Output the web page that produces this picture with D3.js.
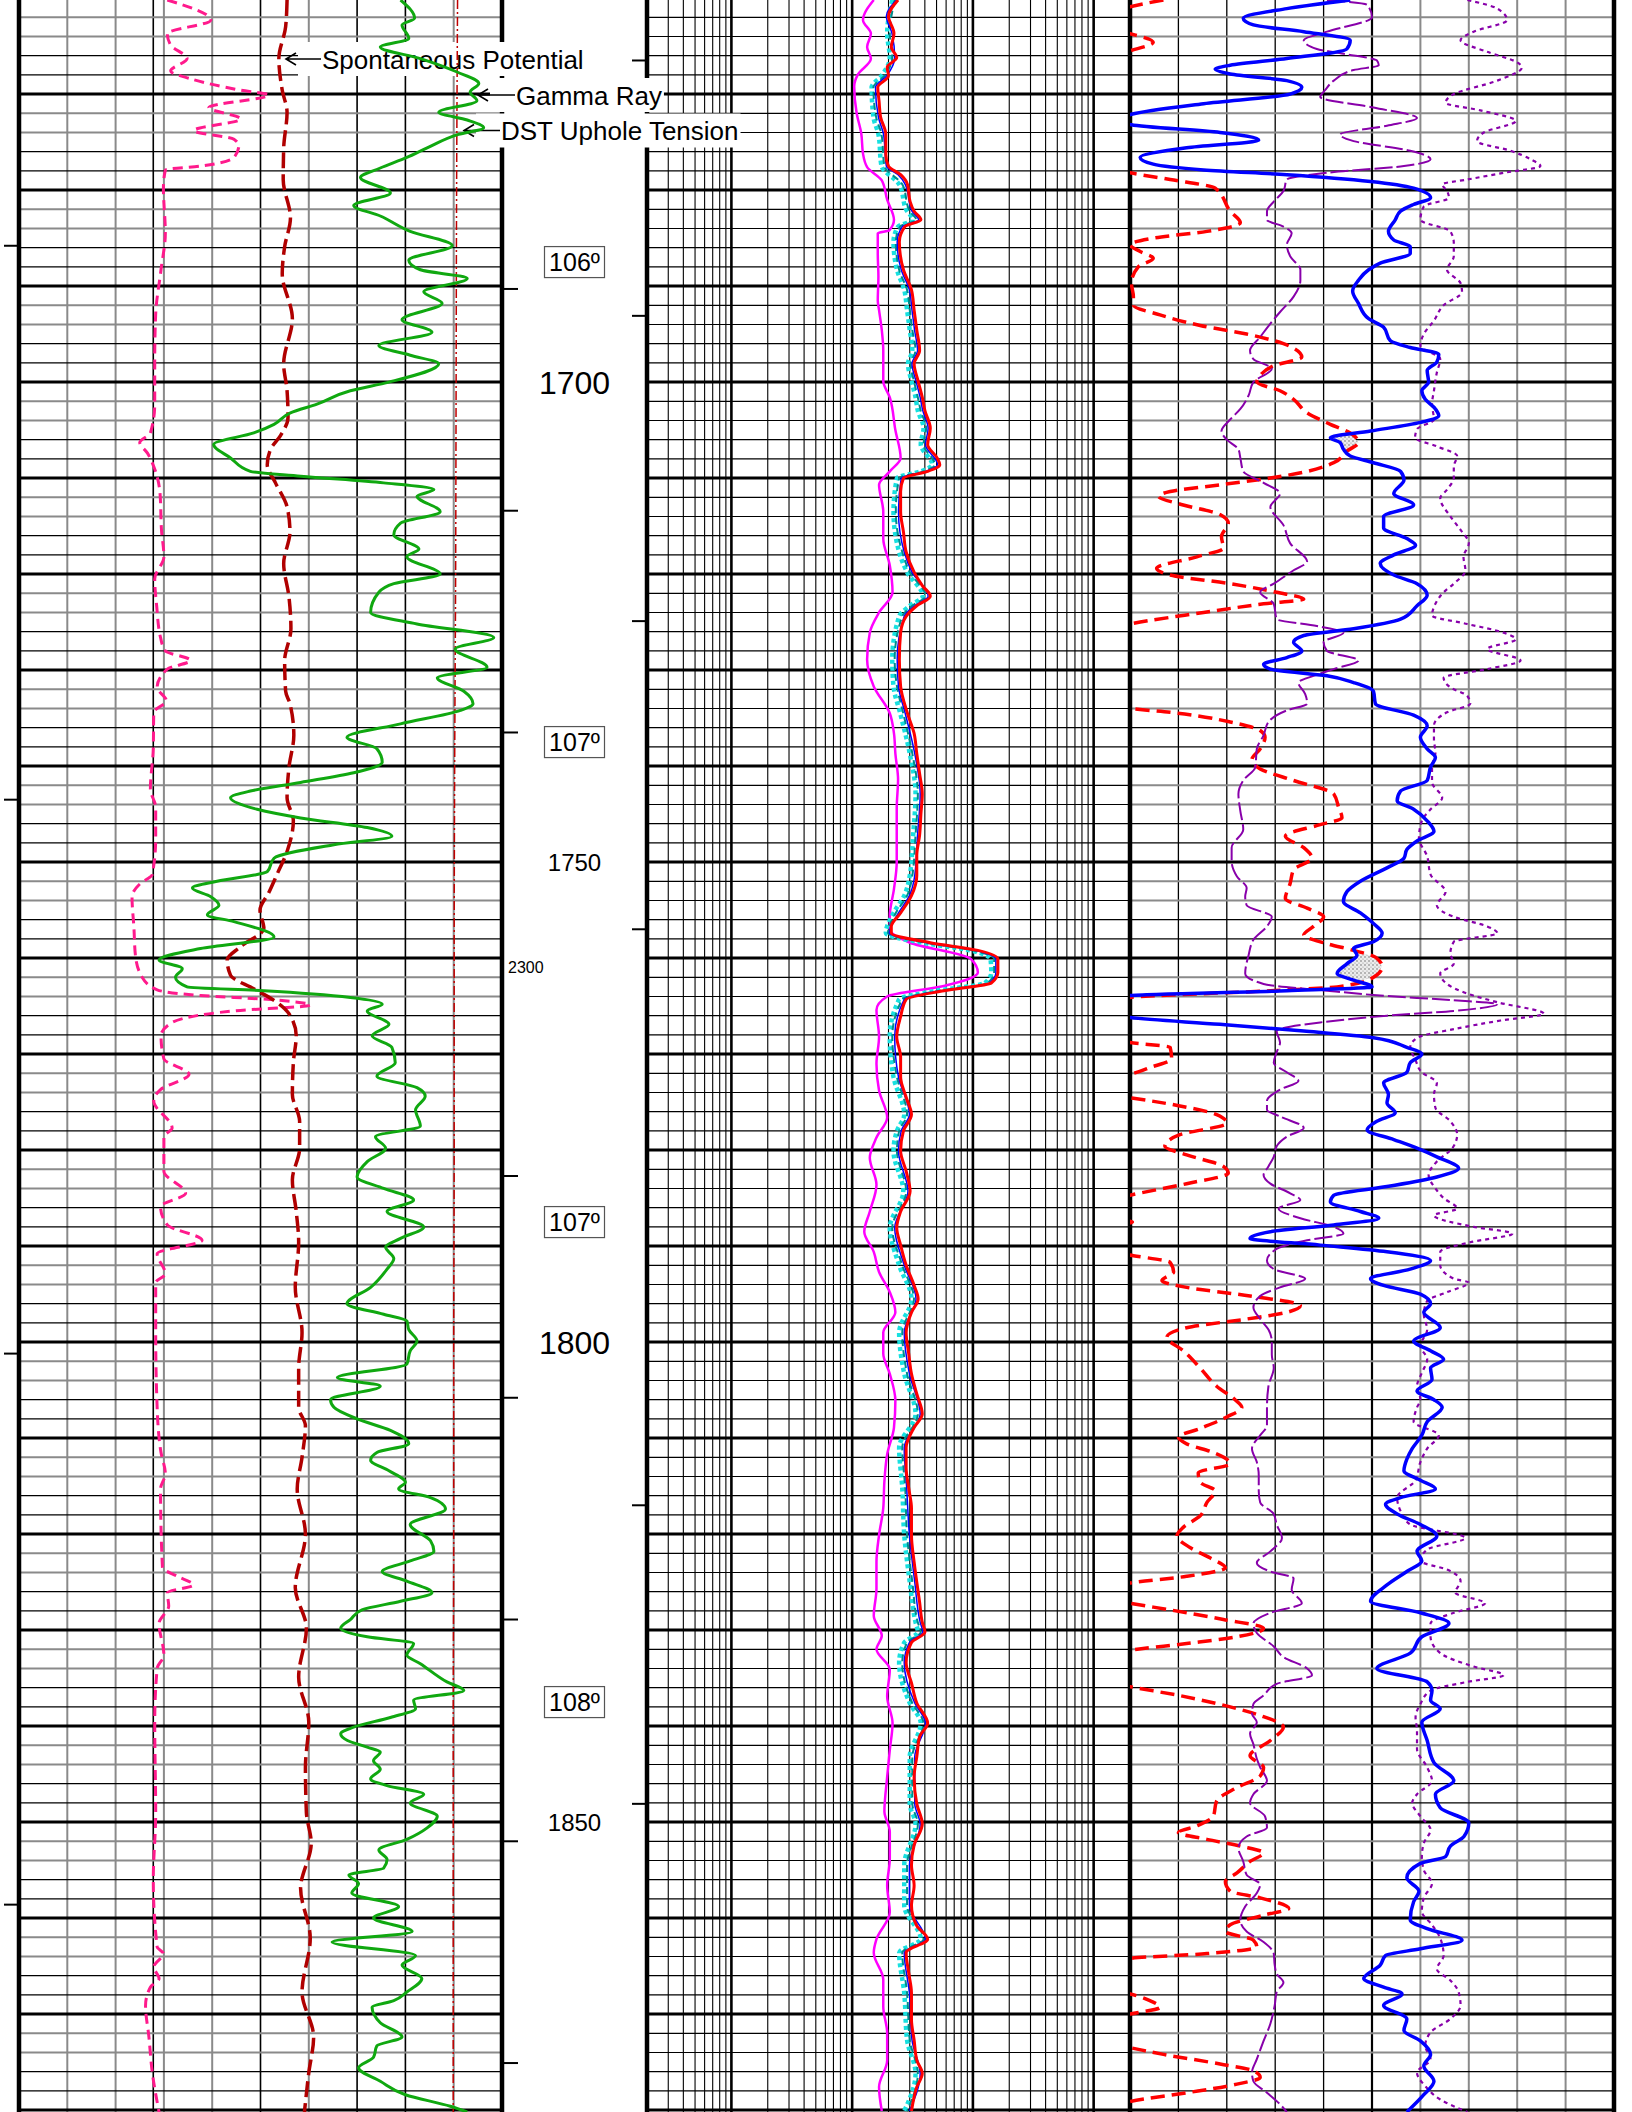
<!DOCTYPE html>
<html><head><meta charset="utf-8">
<script src="https://cdn.jsdelivr.net/npm/d3@7"></script>
<style>html,body{margin:0;padding:0;background:#fff}svg{display:block}</style>
</head><body>
<svg id="chart" width="1632" height="2112"></svg>
<script>
// ---------------- DATA ----------------
const depthDomain = [1660.2, 1880.2];
const depthLabels = [1700, 1750, 1800, 1850];
const majorDepthLabels = [1700, 1800];
const tempDepths = [1687.5, 1737.5, 1787.5, 1837.5];
const tempLabels = ["106º", "107º", "107º", "108º"];
const secTicks = [2225, 2250, 2275, 2325, 2350, 2375, 2400, 2425];
const secLabel = 2300;
const leftTickDepths = [1685.8, 1743.5, 1801.2, 1858.6];
const markerDepths = [1666.5, 1693.1, 1724.9, 1757, 1817, 1848.1];
const curveLabels = ["Spontaneous Potential", "Gamma Ray", "DST Uphole Tension"];
const track1RefLine = 27.8;

// Track 1 (linear, % of scale)
const gammaRay = [[1660.2,79],[1662.1,81.9],[1662.8,79.3],[1664.2,80.7],[1665.1,74.8],[1666.3,83.1],[1667.7,90.7],[1668.9,95.2],[1669.8,93.4],[1670.7,94.8],[1671.9,86.9],[1672.7,92.8],[1673.5,96.2],[1674.2,91],[1675.6,84.5],[1676.6,80.3],[1677.7,74.8],[1678.7,70.7],[1680.3,76.9],[1681.6,69.3],[1682.7,74.8],[1684.3,81],[1685.8,89.7],[1687.3,80.7],[1688.3,83.1],[1689.2,92.8],[1690.6,83.8],[1691.8,87.6],[1693.5,79.3],[1694.8,85.5],[1696.2,74.5],[1697.2,81],[1698.1,86.9],[1700,76.6],[1700.9,68.6],[1702.3,61.7],[1703.2,56.2],[1704.4,52.8],[1705.3,48.6],[1706.5,40.3],[1707.9,43.8],[1709.3,47.9],[1709.8,58.3],[1710.5,75.5],[1711.2,85.9],[1711.9,82.4],[1713.5,87.2],[1714.7,79],[1715.9,77.6],[1717.4,82.8],[1718.2,80.3],[1720,87.2],[1721,77.6],[1721.9,74.5],[1724,72.8],[1725.2,82.4],[1726.6,98.3],[1727.8,90.3],[1729.7,96.9],[1730.8,86.6],[1732.2,92.1],[1733.5,94],[1734.2,91.4],[1735.6,79],[1737,67.9],[1738.2,74.1],[1739.6,75.2],[1740.7,69.3],[1741.7,58.3],[1742.6,47.9],[1743.3,43.8],[1744.5,49.3],[1745.4,58.3],[1746.4,72.1],[1747.3,77.2],[1748.2,65.2],[1749.6,52.8],[1751,51.4],[1752,41],[1752.7,35.9],[1753.6,39.7],[1754.5,41.4],[1755.5,39],[1756.2,44.5],[1757.8,52.8],[1759,37.6],[1760.2,29],[1761.1,33.8],[1762,32.4],[1763,34.8],[1763.4,50.7],[1764.1,68.6],[1764.8,75.2],[1765.5,72.1],[1766.9,76.6],[1768.1,73.1],[1769.3,77.2],[1770.9,77.9],[1772.3,74.1],[1773.5,82.4],[1774.4,84.1],[1775.8,82.1],[1777.5,83.1],[1778.6,73.8],[1779.8,75.9],[1781.2,72.1],[1782.8,70],[1784,75.5],[1785.2,81.7],[1786.4,76.2],[1788,83.8],[1789.2,79],[1790.1,75.9],[1791.3,77.6],[1792.4,76.2],[1794.3,72.8],[1796,67.9],[1797.1,75.5],[1797.8,80.3],[1798.7,80.7],[1799.9,82.4],[1800.9,81],[1802.3,80.3],[1803.7,65.9],[1804.6,74.8],[1806,64.5],[1806.8,65.2],[1808,70],[1809.2,76.9],[1810.6,80.7],[1811.5,74.1],[1812.3,72.8],[1813.4,76.6],[1814.6,80],[1815.3,78.6],[1816.2,85.2],[1817.4,88.3],[1819,81],[1820.7,85.2],[1821.8,85.9],[1822.8,81],[1823.9,75.2],[1824.9,80.3],[1826.1,85.5],[1827,79],[1827.9,71],[1828.9,68.6],[1829.8,66.6],[1830.7,72.1],[1831.4,81.7],[1832.6,80.3],[1833.5,83.1],[1835.4,88.6],[1836.3,92.1],[1837.3,81.7],[1838.2,82.1],[1839.1,76.9],[1840.1,69.3],[1840.8,66.6],[1841.5,68],[1842.2,72.1],[1842.7,74.8],[1843.6,73.4],[1844.5,74.8],[1845.5,72.8],[1846.2,76.2],[1847.1,83.8],[1848,81],[1849.4,86.6],[1850.6,84.5],[1851.8,80.3],[1852.9,74.5],[1853.9,76.2],[1854.8,75.5],[1855.5,68.3],[1856.4,70.3],[1857.4,68.9],[1858.8,78.6],[1860,73.4],[1861.4,81.4],[1862.5,64.8],[1863.9,82.1],[1864.9,79.3],[1866.3,83.4],[1867.7,80.3],[1868.6,77.6],[1869.3,73.1],[1870.9,74.8],[1872.4,79.3],[1873.3,74.1],[1874.5,73.4],[1875.6,70.3],[1877,74.8],[1878.4,80],[1879.6,89.3],[1880.2,92.8]];
const spontaneousPotential = [[1660.2,55.5],[1663,55.2],[1666.3,53.8],[1669.6,54.5],[1671.9,55.5],[1675.6,54.8],[1678.9,54.7],[1682.9,56.2],[1685.9,55],[1688.7,54.5],[1693.4,56.6],[1698.1,54.8],[1700.9,55.5],[1703.7,55.7],[1705.6,54.1],[1707,52.1],[1708.6,51.4],[1710.5,53.1],[1713,55.5],[1715.6,56.1],[1718.9,54.8],[1722.4,55.9],[1725.7,56.3],[1729,55],[1732.2,55.2],[1733.5,56.1],[1736.8,56.9],[1740.1,55.9],[1743.3,55.5],[1745.7,56.8],[1748.9,55.5],[1751.3,53.4],[1753.2,51.7],[1755,49.9],[1756.9,50.7],[1758.8,45.9],[1760.2,43.1],[1761.8,43.8],[1763.2,48.6],[1764.4,52.8],[1765.8,55.9],[1768.1,57.4],[1770.9,56.8],[1774.2,56.6],[1777,58.1],[1779.8,58.1],[1783.1,56.6],[1786.4,57.4],[1789.6,57.9],[1794.3,57.2],[1799,58.6],[1802.7,57.9],[1806.8,57.9],[1808.7,59.3],[1812,58.6],[1815.3,57.6],[1820,59.3],[1825.6,57.2],[1829.8,59.5],[1834.9,57.9],[1839.6,60],[1844.3,59.3],[1849,59.5],[1852.2,60.5],[1856.9,58.3],[1862.1,60.3],[1867.7,58.6],[1872.4,61],[1876.1,60],[1880.2,59.1]];
const pinkCurve = [[1660.2,30.7],[1662.3,39.7],[1663.7,30.7],[1664.9,31.4],[1666.3,34.8],[1667.6,31.4],[1668.4,35.5],[1669.6,45.9],[1670.1,51.7],[1671.4,39.3],[1672.6,45.9],[1673.8,36.2],[1674.7,44.5],[1675.4,45.5],[1676.6,44.5],[1677.5,37.6],[1677.9,30.3],[1679.8,29.9],[1684.5,30.3],[1688.3,29.4],[1692.9,28.3],[1697.6,28.1],[1702.3,28.1],[1705.3,27.2],[1706.3,25],[1707.4,26.6],[1708.8,27.9],[1711.6,29.2],[1715.4,29.5],[1718.2,30],[1720.5,28.1],[1723.3,28.5],[1726.6,29.3],[1728,30.3],[1729,35.5],[1729.9,30.7],[1731.8,28.6],[1733.2,30.5],[1734.4,27.9],[1738.2,27.8],[1742.4,27.2],[1744.3,28.3],[1747.5,28.3],[1751.3,27.6],[1752.2,25.2],[1753.6,23.4],[1756.9,23.8],[1759.7,24.1],[1762,25.5],[1763.3,28.6],[1763.9,37.6],[1764.3,51.4],[1764.9,60.3],[1765.5,44.5],[1766.8,31.4],[1768.1,29.4],[1770.5,30],[1772.1,35.2],[1773.7,29.3],[1774.9,27.9],[1777.7,31.7],[1778.6,30],[1782.2,30],[1784.5,34.5],[1785.9,29.3],[1787.8,30.7],[1789.4,37.9],[1790.8,28.6],[1792.9,30.3],[1793.8,28.3],[1799,28.3],[1806.8,28.6],[1811.5,29.4],[1813.7,30.3],[1815.3,29.3],[1823.5,29.7],[1824.4,32.8],[1825.3,36.1],[1826.1,30.7],[1827.5,31],[1829.3,29],[1832.6,30],[1834,28.6],[1839.6,28.1],[1849,28.3],[1856,27.8],[1863,28.6],[1863.7,29.9],[1865.1,27.9],[1866.3,29],[1867.2,27.2],[1869.1,26.2],[1872.4,26.9],[1876.1,27.6],[1880.2,29]];
const dstTension = [[1660.2,90.8],[1680,90.6],[1700,90.5],[1720,90.4],[1740,90.2],[1760,90.1],[1780,90.1],[1800,90.0],[1820,90.0],[1840,89.9],[1860,89.9],[1880.2,89.9]];

// Track 2 (logarithmic, 0.2 - 2000)
const t2Magenta = [[1660.2,15.1],[1662.3,12.3],[1663.7,14.3],[1665.1,13.3],[1666.3,14.3],[1668,11.1],[1669.2,10.4],[1672,10.9],[1674.1,11.9],[1676.2,12.3],[1677.6,13.3],[1679,17.6],[1681,19.5],[1683.1,22.2],[1684.2,20.3],[1684.5,16.3],[1686.6,16.3],[1689,16.5],[1691.5,16.3],[1692.5,16.7],[1694.6,17.6],[1696.7,18.1],[1699.9,18.1],[1701.6,20.5],[1705,22.8],[1707.9,25.2],[1709.3,20.5],[1710.7,16.7],[1713.5,18.1],[1716.3,18.1],[1719.1,20.5],[1721.9,21.6],[1724,16.7],[1726.1,14.0],[1728.9,13.3],[1731.7,15.1],[1734.5,20.5],[1736.6,22.2],[1738.7,22.8],[1741.4,24.0],[1744.4,23.4],[1747.2,23.4],[1750,23.4],[1752.8,22.2],[1755.6,20.5],[1757,20.5],[1758.4,30.2],[1760.1,96.5],[1761.5,110],[1762.9,57.5],[1764,19.5],[1765.4,15.9],[1768.2,16.7],[1771,15.9],[1773.8,16.7],[1776.6,19.5],[1778.7,15.9],[1780.8,14.0],[1783.6,15.9],[1786.4,14.0],[1788.5,12.6],[1790.6,15.1],[1792.7,16.7],[1794.8,20.5],[1796.9,22.8],[1799,18.1],[1801.2,18.1],[1803.3,20.5],[1806.1,22.8],[1808.9,22.2],[1811.7,19.5],[1814.5,18.5],[1817.3,18.1],[1820.1,16.7],[1822.9,15.9],[1825.7,15.9],[1828.5,15.1],[1830.6,17.6],[1832,15.9],[1834.1,20.5],[1836.9,19.5],[1839.7,21.6],[1842.5,20.5],[1845.3,19.5],[1848.9,18.5],[1851,20.5],[1853.8,20.5],[1856.6,19.5],[1859.4,20.5],[1862.2,15.9],[1863.6,15.1],[1866.4,18.1],[1869.2,18.1],[1872,19.5],[1874.8,19.5],[1877.6,16.7],[1880.1,17.6]];
const t2Cyan = [[1660.2,21.5],[1663.7,19.5],[1666.2,20.5],[1668.1,17.5],[1669.3,14.5],[1672.4,15.0],[1674.2,16.5],[1677.5,17.5],[1679.4,24.5],[1682.2,28.5],[1683.1,32.0],[1683.8,24.0],[1685.4,22.0],[1688.3,23.5],[1690.4,27.0],[1692.5,28.5],[1694.6,30.0],[1696.7,31.5],[1698.1,29.0],[1699.9,31.0],[1701.6,33.5],[1703,35.0],[1704.8,39.0],[1706.5,37.0],[1708.6,46.0],[1709.3,37.0],[1710,23.5],[1713.5,22.0],[1717.7,24.5],[1719.8,28.5],[1722.3,38.5],[1723.3,30.0],[1724.4,24.5],[1728.9,21.5],[1731.7,22.0],[1734.5,25.0],[1738.7,30.0],[1742.9,33.5],[1747.2,32.0],[1751.4,30.0],[1753.5,27.0],[1755.3,22.0],[1757.4,19.0],[1758.4,38.0],[1759.2,95],[1760.1,140],[1761.5,142],[1762.6,125],[1763.4,50],[1764.3,24.5],[1768.2,20.5],[1772.4,22.0],[1776.3,27.0],[1778,23.5],[1780.1,22.0],[1784.3,26.5],[1788.1,20.5],[1792,24.5],[1795.5,31.0],[1799,24.5],[1803.3,27.0],[1807.5,33.5],[1811,24.5],[1815.2,26.0],[1820.1,27.0],[1825,30.0],[1829.2,33.5],[1830.2,35.0],[1831.3,27.0],[1833.4,24.5],[1837.6,30.0],[1839.7,37.0],[1843.2,30.0],[1848.1,30.0],[1850.2,33.5],[1854.5,27.0],[1858.7,27.0],[1862.2,37.0],[1863.6,24.5],[1867.8,27.0],[1872.7,28.5],[1876.2,33.5],[1880.1,27.0]];
const t2Teal = [[1660.2,22.5],[1663.7,20.5],[1666.2,21.5],[1668.1,18.5],[1669.3,15.0],[1672.4,15.8],[1674.2,17.5],[1677.5,18.5],[1679.4,26.0],[1682.2,30.0],[1683.1,34.0],[1683.8,25.0],[1685.4,23.0],[1688.3,24.5],[1690.4,28.5],[1692.5,30.0],[1694.6,31.5],[1696.7,33.5],[1698.1,30.5],[1699.9,32.5],[1701.6,35.0],[1703,37.0],[1704.8,41.0],[1706.5,39.0],[1708.6,48.5],[1709.3,39.0],[1710,24.5],[1713.5,23.0],[1717.7,26.0],[1719.8,30.0],[1722.3,40.5],[1723.3,31.5],[1724.4,26.0],[1728.9,22.5],[1731.7,23.5],[1734.5,26.5],[1738.7,31.5],[1742.9,35.0],[1747.2,33.5],[1751.4,31.5],[1753.5,28.5],[1755.3,23.0],[1757.4,19.8],[1758.4,40.0],[1759.2,100],[1760.1,150],[1761.5,150],[1762.6,132],[1763.4,53],[1764.3,26.0],[1768.2,21.5],[1772.4,23.5],[1776.3,28.5],[1778,24.5],[1780.1,23.5],[1784.3,28.0],[1788.1,21.5],[1792,26.0],[1795.5,32.5],[1799,26.0],[1803.3,28.5],[1807.5,35.0],[1811,26.0],[1815.2,27.5],[1820.1,28.5],[1825,31.5],[1829.2,35.0],[1830.2,37.0],[1831.3,28.5],[1833.4,26.0],[1837.6,31.5],[1839.7,39.0],[1843.2,31.5],[1848.1,31.5],[1850.2,35.0],[1854.5,28.5],[1858.7,28.5],[1862.2,39.0],[1863.6,26.0],[1867.8,28.5],[1872.7,30.0],[1876.2,35.0],[1880.1,28.5]];
const t2Blue = [[1660.2,23.3],[1661.9,19.2],[1663.7,21.4],[1666.2,22.5],[1668.1,19.3],[1669.3,15.6],[1672.4,16.5],[1674.2,18.2],[1677.5,19.2],[1678.4,24.0],[1679.4,27.5],[1682.2,31.3],[1683.1,35.5],[1683.8,26.0],[1685.4,23.6],[1688.3,25.5],[1690.4,29.8],[1692.5,31.3],[1694.6,32.9],[1696.7,34.8],[1698.1,31.3],[1699.9,33.8],[1701.6,36.6],[1703,38.5],[1704.8,42.6],[1706.5,40.5],[1708.6,51.0],[1709.3,40.5],[1710,25.5],[1713.5,24.2],[1717.7,27.0],[1719.8,31.3],[1722.3,42.6],[1723.3,33.0],[1724.4,27.0],[1728.9,23.6],[1731.7,24.2],[1734.5,27.5],[1738.7,33.0],[1742.9,36.6],[1747.2,34.8],[1751.4,33.0],[1753.5,29.8],[1755.3,24.2],[1757.4,20.3],[1758.4,42.0],[1759.2,105],[1760.1,155],[1761.5,155],[1762.6,137],[1763.4,55],[1764.3,27.0],[1768.2,22.5],[1772.4,24.2],[1776.3,29.8],[1778,25.5],[1780.1,24.2],[1784.3,29.0],[1788.1,22.5],[1792,27.0],[1795.5,33.8],[1799,27.0],[1803.3,29.8],[1807.5,36.6],[1811,27.0],[1815.2,28.3],[1820.1,29.8],[1825,33.0],[1829.2,36.6],[1830.2,38.5],[1831.3,29.8],[1833.4,27.0],[1837.6,33.0],[1839.7,40.5],[1843.2,33.0],[1848.1,33.0],[1850.2,36.6],[1854.5,29.8],[1858.7,29.8],[1862.2,40.5],[1863.6,27.0],[1867.8,29.8],[1872.7,31.3],[1876.2,36.6],[1880.1,29.8]];
const t2Red = [[1660.2,24.0],[1661.9,20.0],[1663.7,22.2],[1665.1,21.1],[1666.2,23.4],[1667.2,19.5],[1668.1,20.0],[1669.3,16.3],[1670.7,16.7],[1672.4,17.2],[1674.2,19.0],[1676.3,19.0],[1677.5,20.0],[1678.4,25.2],[1679.4,28.7],[1681.2,30.2],[1682.2,32.6],[1683.1,37.1],[1683.8,27.3],[1685.4,24.6],[1688.3,26.6],[1690.4,31.0],[1692.5,32.6],[1694.6,34.3],[1696.7,36.2],[1698.1,32.6],[1699.9,35.2],[1701.6,38.1],[1703,40.1],[1704.8,44.4],[1706.5,42.2],[1707.9,50.5],[1708.6,53.2],[1709.3,42.2],[1710,26.6],[1711.4,25.2],[1713.5,25.2],[1715.6,26.6],[1717.7,28.0],[1719.8,32.6],[1721.2,38.1],[1722.3,44.4],[1723.3,34.3],[1724.4,28.0],[1726.1,25.2],[1728.9,24.6],[1731.7,25.2],[1734.5,28.7],[1736.6,32.6],[1738.7,34.3],[1740.8,36.2],[1742.9,38.1],[1745,37.1],[1747.2,36.2],[1749.3,34.3],[1751.4,34.3],[1753.5,31.0],[1755.3,25.2],[1756.7,21.1],[1757.4,21.1],[1758.4,44.4],[1759.2,110],[1760.1,161],[1761.5,161],[1762.6,142],[1763.4,57.5],[1764.3,28.0],[1766.1,25.2],[1768.2,23.4],[1770.3,25.2],[1772.4,25.2],[1774.5,28.0],[1776.3,31.0],[1778,26.6],[1780.1,25.2],[1782.2,28.0],[1784.3,30.2],[1786.4,25.2],[1788.1,23.4],[1789.9,25.2],[1792,28.0],[1794.1,32.6],[1795.5,35.2],[1796.9,31.0],[1799,28.0],[1801.2,29.4],[1803.3,31.0],[1805.4,34.3],[1807.5,38.1],[1808.9,32.6],[1811,28.0],[1813.1,28.0],[1815.2,29.4],[1817.3,31.0],[1820.1,31.0],[1822.9,32.6],[1825,34.3],[1827.1,36.2],[1829.2,38.1],[1830.2,40.1],[1831.3,31.0],[1833.4,28.0],[1835.5,31.0],[1837.6,34.3],[1839.7,42.2],[1841.1,36.2],[1843.2,34.3],[1845.3,32.6],[1848.1,34.3],[1850.2,38.1],[1852.4,32.6],[1854.5,31.0],[1856.6,32.6],[1858.7,31.0],[1860.8,34.3],[1862.2,42.2],[1863.6,28.0],[1865.7,29.4],[1867.8,31.0],[1870.6,31.0],[1872.7,32.6],[1874.8,34.3],[1876.2,38.1],[1877.6,34.3],[1880.1,31.0]];

// Track 3 (linear, % of scale)
const t3RedDashed = [[1660.2,6.9],[1660.9,0],[1661.5,-4],[1663.2,-4],[1663.7,0],[1664.6,4.8],[1665.5,0],[1666.2,-5],[1677.6,-5],[1678.2,0],[1678.9,8.3],[1679.8,17.6],[1682.2,20.7],[1683.4,22.8],[1684.3,15.9],[1685,4.8],[1685.7,0],[1686.4,2.1],[1687.1,4.8],[1688,1.7],[1689.7,0.3],[1691.1,0.7],[1692,0.7],[1693,6.2],[1694.1,14.5],[1695,24.1],[1696,31.7],[1697.4,35.5],[1698.3,29.7],[1699.3,26.9],[1700,26.2],[1700.9,31],[1701.8,33.8],[1703.2,36.6],[1704.4,41.4],[1705.3,45.5],[1706.3,47.2],[1707.2,44.8],[1708.4,42.1],[1709.3,36.6],[1710,29],[1710.7,18.6],[1711.4,8.3],[1711.9,5.9],[1712.8,11],[1713.8,18.6],[1714.7,20.3],[1716.1,18.9],[1717.3,19.3],[1718.2,13.8],[1719.4,5.5],[1720.1,8.3],[1721,20.7],[1721.9,30.3],[1722.6,35.9],[1723.1,27.6],[1724,15.2],[1725.2,0],[1725.8,-5],[1733.4,-5],[1734,0],[1734.4,8.3],[1735.4,20.7],[1736.3,26.9],[1737,27.9],[1738.2,26.9],[1739.3,25.2],[1740.3,26.9],[1741.5,33.8],[1742.9,42.1],[1744.3,43.1],[1745.4,43.8],[1746.1,39.3],[1747.3,32.1],[1748.5,35.9],[1749.6,37.6],[1750.8,33.8],[1752.2,33.1],[1753.8,32.1],[1754.8,36.6],[1755.7,40],[1756.7,37.9],[1757.6,35.9],[1758.5,40.7],[1759.2,46.2],[1759.9,50.7],[1760.9,52.1],[1762,50.3],[1763,42.8],[1763.4,29],[1764.1,0],[1764.6,-5],[1768.3,-5],[1768.8,0],[1769.3,8.3],[1770.5,8.6],[1771.4,4.1],[1772.1,0],[1772.6,-5],[1774.2,-5],[1774.6,0.7],[1775.4,10.3],[1776.3,17.9],[1777.2,20],[1778.4,10.3],[1779.6,7.2],[1780.5,11.7],[1781.7,19.3],[1782.4,20.3],[1783.5,11.7],[1784.7,0],[1785.3,-5],[1787,-5],[1787.5,0.5],[1788,-5],[1790.5,-5],[1791,0.7],[1791.7,8.3],[1792.7,9],[1793.6,6.6],[1794.3,11.7],[1795.2,24.8],[1796.2,35.2],[1796.9,32.4],[1797.6,24.1],[1798.5,11.7],[1799.5,7.6],[1800.9,11],[1802.7,14.5],[1804.6,17.9],[1806,21.7],[1806.8,23.1],[1807.8,20],[1809,14.5],[1809.9,10],[1810.6,11.7],[1811.5,17.2],[1812.7,20.7],[1813.6,14.1],[1814.6,14.5],[1815.5,17.6],[1816.7,15.9],[1818.1,14.5],[1819.3,11],[1820.2,9.7],[1821.4,12.4],[1822.5,16.6],[1823.5,19.7],[1824.4,11.7],[1825.1,0],[1825.7,-5],[1826.7,-5],[1827.2,0],[1827.9,8.3],[1828.9,19.3],[1829.8,27.6],[1830.7,22.1],[1831.4,11.7],[1832.1,0],[1832.7,-5],[1835.4,-5],[1835.9,0],[1836.8,10],[1838,20.7],[1838.9,26.9],[1840.1,31.7],[1841.5,29],[1843.1,24.8],[1844.3,27.6],[1845.2,26.9],[1846.4,22.1],[1847.8,17.9],[1849.4,17.2],[1850.4,13.8],[1851.1,10],[1851.8,15.9],[1852.5,22.8],[1853.2,27.6],[1854.1,24.8],[1855.3,22.1],[1856.2,19.7],[1857.2,20.7],[1857.9,26.9],[1859,32.8],[1859.7,27.6],[1860.7,20.7],[1861.4,19.7],[1862.3,25.5],[1863,26.2],[1863.7,15.9],[1864.2,0],[1864.8,-5],[1867.4,-5],[1867.9,0],[1868.6,4.1],[1869.3,6.2],[1870,0],[1870.6,-5],[1873,-5],[1873.5,0],[1874.2,6.9],[1875.2,18.6],[1875.9,25.5],[1876.6,26.9],[1877.3,22.1],[1878.2,11.7],[1879.1,0],[1879.7,-5],[1880.2,-5]];
const t3Blue = [[1660.2,45.5],[1661.1,32.4],[1662.1,23.4],[1662.8,25.5],[1663.5,35.9],[1664.4,45.5],[1665.3,44.8],[1666.3,32.4],[1667,20.7],[1667.4,17.6],[1667.9,20.7],[1668.6,32.4],[1669.3,35.5],[1670,33.1],[1671,15.2],[1672.1,0.3],[1672.7,-2],[1673.2,0.3],[1674,18.6],[1674.8,26.6],[1675.6,11.7],[1676.6,2.1],[1677.3,4.8],[1677.9,15.2],[1678.4,32.4],[1679.1,49.7],[1679.8,58.6],[1680.8,62.1],[1681.5,58.6],[1682.2,55.9],[1683.1,54.8],[1684.3,53.4],[1685.2,54.5],[1685.9,57.9],[1686.6,57.9],[1687.6,51.7],[1688.3,49.3],[1689.4,47.2],[1690.5,46],[1691.8,47.2],[1693.4,49.3],[1694.3,52.4],[1695.7,53.8],[1696.4,57.9],[1697.1,63.8],[1697.9,63.4],[1698.8,61.4],[1700,61.7],[1700.9,60.3],[1701.8,61],[1702.8,63.1],[1703.5,63.8],[1704.2,60],[1705.1,49.7],[1705.8,41.4],[1706.3,43.4],[1707,44.1],[1707.7,45.5],[1708.4,50.3],[1709.3,55.9],[1710.2,56.6],[1711.6,54.5],[1712.8,58.6],[1714,52.4],[1715.2,52.4],[1716.3,57.2],[1717,59],[1718,54.5],[1718.9,51.7],[1720.1,54.5],[1721,59.3],[1722.2,61.4],[1723.3,59.3],[1724.7,55.9],[1725.7,46.2],[1726.4,35.9],[1727.1,33.8],[1728,35.5],[1728.7,32.4],[1729.4,27.6],[1729.9,29],[1730.6,40.7],[1731.3,46.2],[1732.2,50.3],[1733.5,50.7],[1734.7,58.6],[1735.8,61.4],[1737,60],[1738.2,61.4],[1739.1,63.1],[1740.1,62.1],[1741.5,61.4],[1742.6,55.9],[1743.6,55.2],[1744.5,58.6],[1745.7,61.4],[1746.8,62.8],[1747.8,59.3],[1748.7,57.2],[1749.6,56.6],[1750.6,53.1],[1752,47.6],[1753.1,44.8],[1754.1,44.1],[1755.3,47.6],[1756.4,50.3],[1757.4,52.1],[1758.3,50.3],[1759,46.2],[1759.7,46.9],[1760.6,44.8],[1761.6,42.8],[1762.3,46.2],[1763,50],[1763.4,32.4],[1763.9,0],[1764.5,-5],[1765.7,-5],[1766.2,0],[1766.9,18.6],[1767.6,35.9],[1768.3,50.3],[1769.3,57.2],[1770,60.3],[1770.9,57.9],[1771.9,57.2],[1773,52.4],[1774.2,53.4],[1775.1,53.1],[1776.1,54.8],[1777,51],[1777.9,49],[1778.9,54.5],[1779.8,59.3],[1780.7,63.4],[1781.9,67.9],[1782.8,63.4],[1783.8,53.1],[1784.7,42.1],[1785.4,41.4],[1786.4,47.6],[1787.1,51.4],[1787.8,42.1],[1788.5,29],[1789.2,24.8],[1789.9,39.3],[1790.6,53.1],[1791.5,62.1],[1792.4,57.9],[1793.4,49.7],[1794.1,52.4],[1795,60],[1796,62.1],[1796.9,60.7],[1798.5,64.1],[1799.9,58.6],[1800.9,62.1],[1801.8,64.8],[1802.7,62.1],[1803.9,62.4],[1805.1,59.3],[1806,62.8],[1806.8,64.5],[1808.3,61.4],[1809.7,60.3],[1811.1,58.3],[1812.2,57.2],[1813.4,56.6],[1814.4,60],[1815.3,63.1],[1816.2,55.9],[1816.9,52.8],[1817.9,55.2],[1819,60],[1820.2,63.4],[1821.8,59.3],[1822.8,60.3],[1823.9,57.2],[1825.3,53.1],[1827,49.7],[1828.2,60],[1829.3,65.9],[1830.7,60.3],[1832.4,57.9],[1834,51],[1835.4,61.4],[1836.3,62.4],[1837.3,62.1],[1838.2,64.1],[1839.6,60.3],[1841.5,61.4],[1843.8,62.8],[1845.7,66.9],[1847.1,63.1],[1848.5,64.1],[1850.1,70],[1851.5,69],[1852.5,66.2],[1853.6,65.2],[1854.3,60],[1855.8,57.2],[1857.2,59.7],[1858.3,58.6],[1860.2,57.9],[1861.1,61.4],[1862.3,68.6],[1863.2,60],[1863.9,52.8],[1864.9,51.7],[1866.3,48.3],[1867.2,52.4],[1867.9,56.2],[1869.1,52.4],[1870.5,57.2],[1871.7,56.6],[1872.8,60],[1874.2,62.1],[1875.4,60.7],[1877,62.8],[1878.4,60.7],[1880.2,57.2]];
const t3PurpleDashed = [[1660.2,40.7],[1660.7,49],[1662,50],[1663.5,40.7],[1664.4,35.9],[1665.3,38.6],[1665.8,44.1],[1666.5,51],[1667,51.4],[1667.5,46.2],[1668.6,42.1],[1669.6,40.3],[1670.3,39.3],[1671.4,50.3],[1672.5,59.3],[1673.3,53.1],[1674.2,43.4],[1674.9,46.2],[1675.9,57.9],[1676.8,62.1],[1677.5,56.6],[1678.2,40.7],[1678.9,32.4],[1680.1,31.7],[1681.2,29.7],[1682.2,28.3],[1683.1,28.3],[1683.8,31.7],[1684.5,33.4],[1685.7,32.4],[1686.9,33.1],[1688.3,35.2],[1689.4,35.2],[1691.1,33.8],[1692.7,31],[1693.9,29],[1695.3,26.9],[1696.7,24.8],[1697.6,25.5],[1698.6,29.3],[1700,25.5],[1701.4,24.5],[1702.8,22.8],[1703.9,20.7],[1705.1,18.9],[1706,20],[1707,22.4],[1707.9,22.8],[1709.3,23.4],[1710.5,27.6],[1711.6,31],[1713,29],[1714.9,31.7],[1716.8,33.1],[1718.7,36.6],[1719.6,33.8],[1721,29.7],[1721.9,26.9],[1723.1,29.7],[1724.7,30.3],[1725.4,38.6],[1726.1,44.1],[1727.1,40],[1728,40.7],[1729,47.2],[1729.9,42.1],[1730.6,37.9],[1731.3,34.8],[1732.5,36.2],[1733.5,36.6],[1734.2,32.4],[1735.4,28.6],[1736.8,27.6],[1738.2,26.2],[1740.1,25.9],[1741.5,23.4],[1742.9,22.4],[1744.7,22.8],[1746.6,23.4],[1748.5,21],[1749.9,21],[1751.5,22.1],[1752.7,24.1],[1753.6,23.8],[1754.5,24.1],[1755.7,29.3],[1756.7,28.3],[1758.1,25.5],[1759.7,24.5],[1761.6,23.8],[1762.7,27.6],[1763.4,40.7],[1763.9,51.7],[1764.4,66.9],[1764.8,75.9],[1765.5,66.9],[1766,53.1],[1766.7,39.3],[1767.6,30.3],[1768.8,31],[1769.8,30.3],[1770.9,29.7],[1771.9,32.4],[1772.8,34.8],[1773.7,31],[1774.9,28.3],[1775.8,28.3],[1776.5,31],[1777.7,35.9],[1778.6,32.4],[1779.6,30.3],[1780.7,29.7],[1781.7,28.6],[1782.6,27.6],[1783.5,29],[1784.5,33.1],[1785.2,35.2],[1786.1,30.7],[1787.1,35.2],[1788,42.1],[1788.7,44.1],[1789.4,36.6],[1790.3,30.3],[1791.5,28.3],[1792.4,29.7],[1793.4,36.2],[1794.3,31],[1795.2,26.9],[1796.4,25.5],[1797.6,26.9],[1798.7,28.6],[1799.9,29.3],[1801.3,29.3],[1802.7,29.7],[1804.6,28.6],[1806.8,28.3],[1808.7,28.3],[1809.7,26.9],[1811.1,25.2],[1812.5,26.2],[1813.9,26.6],[1815.5,26.6],[1816.7,26.9],[1817.9,29.7],[1819,30.3],[1820.4,31.4],[1821.8,29],[1823,26.2],[1823.9,29],[1824.6,33.8],[1825.8,33.4],[1827.2,35.5],[1828.2,29],[1829.3,25.5],[1830.3,26.2],[1831.7,29.7],[1832.8,31.7],[1834,36.6],[1834.7,37.6],[1835.6,30.3],[1836.8,27.6],[1837.7,25.5],[1838.7,25.2],[1839.6,26.2],[1840.8,24.8],[1841.9,25.5],[1843.4,26.2],[1844.3,26.9],[1845.7,28.3],[1847.1,25.5],[1848,24.8],[1849.4,27.9],[1850.6,28.3],[1851.5,24.1],[1852.7,22.4],[1854.1,23.4],[1855.5,24.1],[1856.5,26.9],[1857.4,26.2],[1858.8,23.8],[1860.2,22.8],[1861.4,24.1],[1862.5,27.6],[1863.7,29.7],[1864.9,29.9],[1865.8,30.3],[1866.7,31.7],[1867.7,30.3],[1869.1,29.9],[1871,29],[1872.8,27.6],[1874.7,26.2],[1876.1,25.2],[1877,25.5],[1878.2,28.3],[1879.4,31],[1880.2,32.4]];
const t3PurpleDotted = [[1660.2,69.7],[1661.1,75.9],[1662.3,77.9],[1663.5,71],[1664.4,68.3],[1665.6,73.8],[1666.7,80],[1667.2,81],[1668.6,75.9],[1670,66.9],[1670.9,65.2],[1671.7,72.4],[1672.8,79.7],[1674,73.1],[1674.9,71.7],[1675.9,78.6],[1676.8,82.8],[1677.5,84.8],[1678.2,77.2],[1678.9,69.7],[1679.4,64.5],[1680.1,65.5],[1680.8,65.9],[1681.7,60.7],[1683.1,60],[1684.3,66.2],[1685.5,66.9],[1686.9,66.9],[1688.3,65.5],[1689.7,68.3],[1690.6,68.6],[1692,64.8],[1693.6,62.8],[1695,60.7],[1696.2,60],[1697.6,64.1],[1699,63.4],[1700.9,62.8],[1702.3,62.4],[1703.9,62.8],[1704.9,59.3],[1705.8,58.9],[1706.7,63.4],[1707.7,67.6],[1708.8,66.9],[1710,66.9],[1711.2,65.5],[1712.1,64.1],[1714,66.2],[1715.4,68.3],[1716.8,70],[1718.2,68.9],[1719.6,69.3],[1721,66.9],[1721.9,64.8],[1723.1,63.1],[1724.3,62.4],[1725.2,69.7],[1726.1,77.2],[1726.8,79.7],[1727.8,73.8],[1729,80.7],[1729.9,73.8],[1730.8,64.8],[1731.8,66.2],[1732.7,69.7],[1733.5,70.3],[1734.4,65.5],[1735.8,62.8],[1737.2,62.8],[1738.6,63.1],[1740.1,62.4],[1741.7,62.4],[1743.3,64.5],[1744.5,62.1],[1745.7,60.3],[1747.5,59.7],[1749.4,61.4],[1751.3,62.1],[1753.1,65.2],[1754.5,63.4],[1755.7,66.9],[1756.7,73.8],[1757.4,75.9],[1758.3,66.9],[1759.5,66.2],[1760.6,66.9],[1761.6,64.1],[1762.7,65.5],[1763.7,69.7],[1764.6,75.9],[1765.8,85.5],[1766.5,76.6],[1767.4,66.9],[1768.3,59.3],[1769.3,57.9],[1770.5,58.9],[1771.9,60.3],[1773,63.4],[1774.2,62.8],[1775.6,63.1],[1777,66.2],[1778.4,67.6],[1779.8,66.6],[1781.2,63.4],[1782.6,61.7],[1784,63.1],[1785,64.8],[1786.1,67.6],[1786.8,62.8],[1788,71],[1788.7,79],[1789.6,70.3],[1790.6,64.1],[1792,64.1],[1793.4,66.9],[1793.8,70],[1794.8,65.5],[1795.7,61.4],[1797.1,60.7],[1798.7,61.4],[1800.4,60],[1801.8,61.4],[1803.2,60.3],[1804.6,59.3],[1806,60],[1806.8,59.3],[1808.3,58.6],[1809.7,63.8],[1811.1,61.4],[1812.5,60],[1814.4,59],[1816.2,55.2],[1817.6,55.9],[1819,57.9],[1820.4,69.3],[1821.6,61.4],[1822.8,60],[1823.7,65.5],[1824.9,68.3],[1826.1,67.2],[1827.2,73.4],[1828.2,66.9],[1829.3,62.1],[1830.7,62.1],[1832.4,64.1],[1833.8,71],[1834.7,77.2],[1835.4,69.7],[1836.3,62.1],[1837.7,60],[1839.1,59],[1840.5,59.3],[1842.4,59.3],[1844.3,61.4],[1845.7,62.4],[1847.1,59.3],[1848,58.3],[1849.4,60],[1850.8,62.1],[1852.2,60.7],[1853.6,60.3],[1855,60.7],[1856.4,62.4],[1857.9,60.7],[1859.3,60.3],[1860.7,62.4],[1862.1,64.1],[1863.9,64.8],[1865.3,63.4],[1866.5,66.2],[1867.7,67.9],[1869.1,68.3],[1870.5,66.2],[1871.9,62.1],[1873.3,61],[1874.7,62.1],[1876.1,59.3],[1877.5,61],[1878.9,64.1],[1880.2,69.7]];

// ---------------- LAYOUT ----------------
const W = 1632, H = 2112;
const T1 = {x0: 19, x1: 502}, T2 = {x0: 647, x1: 1130}, T3 = {x0: 1130, x1: 1614};
const y = d3.scaleLinear().domain(depthDomain).range([0, H]);
const s1 = d3.scaleLinear().domain([0, 100]).range([T1.x0, T1.x1]);
const s2 = d3.scaleLog().domain([0.2, 2000]).range([T2.x0, T2.x1]);
const s3 = d3.scaleLinear().domain([0, 100]).range([T3.x0, T3.x1]);
const secScale = d3.scaleLinear().domain([2300, 2325]).range([1759.6, 1782.7]);
const FONT = "'Liberation Sans', Arial, Helvetica, sans-serif";

const svg = d3.select('#chart');
svg.append('rect').attr('width', W).attr('height', H).attr('fill', '#fff');
const defs = svg.append('defs');
[['c1', T1], ['c2', T2], ['c3', T3]].forEach(([id, t]) => {
  defs.append('clipPath').attr('id', id).append('rect')
    .attr('x', t.x0).attr('y', 0).attr('width', t.x1 - t.x0).attr('height', H);
});
const pat = defs.append('pattern').attr('id', 'stipple').attr('width', 4).attr('height', 4)
  .attr('patternUnits', 'userSpaceOnUse');
pat.append('rect').attr('width', 4).attr('height', 4).attr('fill', '#ececec');
pat.append('circle').attr('cx', 1).attr('cy', 1).attr('r', 0.7).attr('fill', '#555');
pat.append('circle').attr('cx', 3).attr('cy', 3).attr('r', 0.6).attr('fill', '#888');

const gridG = svg.append('g');

function hline(g, x0, x1, d, stroke, sw) {
  g.append('line').attr('x1', x0).attr('x2', x1).attr('y1', y(d)).attr('y2', y(d))
    .attr('stroke', stroke).attr('stroke-width', sw);
}
function vline(g, x, stroke, sw) {
  g.append('line').attr('x1', x).attr('x2', x).attr('y1', 0).attr('y2', H)
    .attr('stroke', stroke).attr('stroke-width', sw);
}
const depthLines = d3.range(1660, 1881, 2);
function drawHLines(t, mixed) {
  depthLines.forEach(d => {
    const m = d % 10;
    if (m === 0) hline(gridG, t.x0, t.x1, d, '#000', 3);
    else if (mixed && (m === 2 || m === 4)) hline(gridG, t.x0, t.x1, d, '#8a8a8a', 2);
    else hline(gridG, t.x0, t.x1, d, '#000', 1.2);
  });
}
// Track 1 verticals
const t1Black = [50, 70, 80];
d3.range(10, 100, 10).forEach(v => {
  if (t1Black.includes(v)) vline(gridG, s1(v), '#000', 1.6);
  else vline(gridG, s1(v), '#8a8a8a', 2);
});
vline(gridG, s1(track1RefLine), '#000', 1.6);
drawHLines(T1, true);
// Track 2 log grid
s2.ticks().filter(t => t > 0.2 && t < 2000).forEach(t => {
  const lg = Math.log10(t);
  const decade = Math.abs(lg - Math.round(lg)) < 1e-9;
  vline(gridG, s2(t), '#000', decade ? 2.6 : 1.1);
});
drawHLines(T2, false);
// Track 3 verticals
d3.range(10, 100, 10).forEach(v => {
  if (v < 50) vline(gridG, s3(v), '#000', 1.3);
  else if (v === 50) vline(gridG, s3(v), '#000', 2.2);
  else vline(gridG, s3(v), '#8a8a8a', 2);
});
drawHLines(T3, true);

// Track borders
[T1.x0, T1.x1, T2.x0, T3.x0, T3.x1].forEach(x => vline(gridG, x, '#000', 4.5));

// Tick marks
leftTickDepths.forEach(d => {
  gridG.append('line').attr('x1', 4).attr('x2', T1.x0).attr('y1', y(d)).attr('y2', y(d))
    .attr('stroke', '#000').attr('stroke-width', 2);
});
secTicks.forEach(s => {
  const d = secScale(s);
  gridG.append('line').attr('x1', T1.x1).attr('x2', T1.x1 + 16).attr('y1', y(d)).attr('y2', y(d))
    .attr('stroke', '#000').attr('stroke-width', 2);
});
markerDepths.forEach(d => {
  gridG.append('line').attr('x1', T2.x0 - 15).attr('x2', T2.x0).attr('y1', y(d)).attr('y2', y(d))
    .attr('stroke', '#000').attr('stroke-width', 2);
});

// Depth column labels
const lab = svg.append('g').attr('font-family', FONT).attr('fill', '#000');
const midX = (T1.x1 + T2.x0) / 2;
depthLabels.forEach(d => {
  const big = majorDepthLabels.includes(d);
  const fs = big ? 32 : 24;
  lab.append('text').attr('x', midX).attr('y', y(d) + fs * 0.36).attr('text-anchor', 'middle')
    .attr('font-size', fs).text(d);
});
lab.append('text').attr('x', T1.x1 + 6).attr('y', y(secScale(secLabel)) + 19)
  .attr('font-size', 16).text(secLabel);
tempDepths.forEach((d, i) => {
  const cy = y(d);
  lab.append('rect').attr('x', midX - 30).attr('y', cy - 15.5).attr('width', 60).attr('height', 31)
    .attr('fill', '#fff').attr('stroke', '#555').attr('stroke-width', 1.2);
  lab.append('text').attr('x', midX).attr('y', cy + 9).attr('text-anchor', 'middle')
    .attr('font-size', 25).text(tempLabels[i]);
});

// Curve labels with arrows
const labelSpecs = [
  {text: curveLabels[0], tip: 286, tx: 322, cy: 59},
  {text: curveLabels[1], tip: 478, tx: 516, cy: 95},
  {text: curveLabels[2], tip: 464, tx: 501, cy: 130.5}
];
labelSpecs.forEach(s => {
  const g = svg.append('g');
  const bg = g.append('rect').attr('fill', '#fff');
  const t = g.append('text').attr('x', s.tx).attr('y', s.cy + 9.5).attr('font-family', FONT)
    .attr('font-size', 26).attr('fill', '#000').text(s.text);
  const w = t.node().getComputedTextLength();
  bg.attr('x', s.tip + 12).attr('y', s.cy - 17).attr('width', s.tx + w + 2 - (s.tip + 12)).attr('height', 34);
  g.append('path').attr('d', `M${s.tx - 1},${s.cy} L${s.tip},${s.cy} M${s.tip + 10},${s.cy - 6} L${s.tip},${s.cy} L${s.tip + 10},${s.cy + 6}`)
    .attr('fill', 'none').attr('stroke', '#000').attr('stroke-width', 1.6);
});

// ---------------- CURVES ----------------
function clean(data) {
  const out = []; let last = -Infinity;
  data.forEach(p => { if (p[0] > last) { out.push(p); last = p[0]; } });
  return out;
}
function drawCurve(g, data, scale, st) {
  const line = d3.line().x(d => scale(d[1])).y(d => y(d[0])).curve(d3.curveMonotoneY);
  const p = g.append('path').attr('d', line(clean(data))).attr('fill', 'none')
    .attr('stroke', st.color).attr('stroke-width', st.width)
    .attr('stroke-linejoin', 'round');
  if (st.dash) p.attr('stroke-dasharray', st.dash);
  if (st.cap) p.attr('stroke-linecap', st.cap);
}
const g1 = svg.append('g').attr('clip-path', 'url(#c1)');
drawCurve(g1, pinkCurve, s1, {color: '#ff1a8c', width: 3, dash: '10,6'});
drawCurve(g1, dstTension, s1, {color: '#c00000', width: 1.5, dash: '9,3,2,3'});
drawCurve(g1, spontaneousPotential, s1, {color: '#b00000', width: 3.5, dash: '16,6'});
drawCurve(g1, gammaRay, s1, {color: '#10a810', width: 3});

const g2 = svg.append('g').attr('clip-path', 'url(#c2)');
drawCurve(g2, t2Magenta, s2, {color: '#ff00ff', width: 2.5});
drawCurve(g2, t2Cyan, s2, {color: '#18e0e0', width: 4.5, dash: '4,3'});
drawCurve(g2, t2Teal, s2, {color: '#008b8b', width: 2, dash: '7,4'});
drawCurve(g2, t2Blue, s2, {color: '#0000ff', width: 1.5});
drawCurve(g2, t2Red, s2, {color: '#ff0000', width: 3});

const g3 = svg.append('g').attr('clip-path', 'url(#c3)');
// crossover shading where red dashed lies right of blue
const r3 = clean(t3RedDashed), b3 = clean(t3Blue);
const bis = d3.bisector(p => p[0]).left;
function interp(data, d) {
  const i = bis(data, d);
  if (i <= 0) return data[0][1];
  if (i >= data.length) return data[data.length - 1][1];
  const a = data[i - 1], b = data[i];
  return a[1] + (d - a[0]) / (b[0] - a[0]) * (b[1] - a[1]);
}
const samples = d3.range(depthDomain[0], depthDomain[1], 0.05)
  .map(d => ({d, r: interp(r3, d), b: interp(b3, d)}));
const shade = d3.area().defined(p => p.r > p.b + 0.3 && p.b > 0)
  .y(p => y(p.d)).x0(p => s3(p.b)).x1(p => s3(p.r));
g3.append('path').attr('d', shade(samples)).attr('fill', 'url(#stipple)').attr('stroke', 'none');
drawCurve(g3, t3RedDashed, s3, {color: '#ff0000', width: 3.5, dash: '14,7'});
drawCurve(g3, t3PurpleDashed, s3, {color: '#8800aa', width: 2, dash: '18,4'});
drawCurve(g3, t3PurpleDotted, s3, {color: '#8800aa', width: 2.2, dash: '4,4'});
drawCurve(g3, t3Blue, s3, {color: '#0000ff', width: 3.5});
</script>
</body></html>
